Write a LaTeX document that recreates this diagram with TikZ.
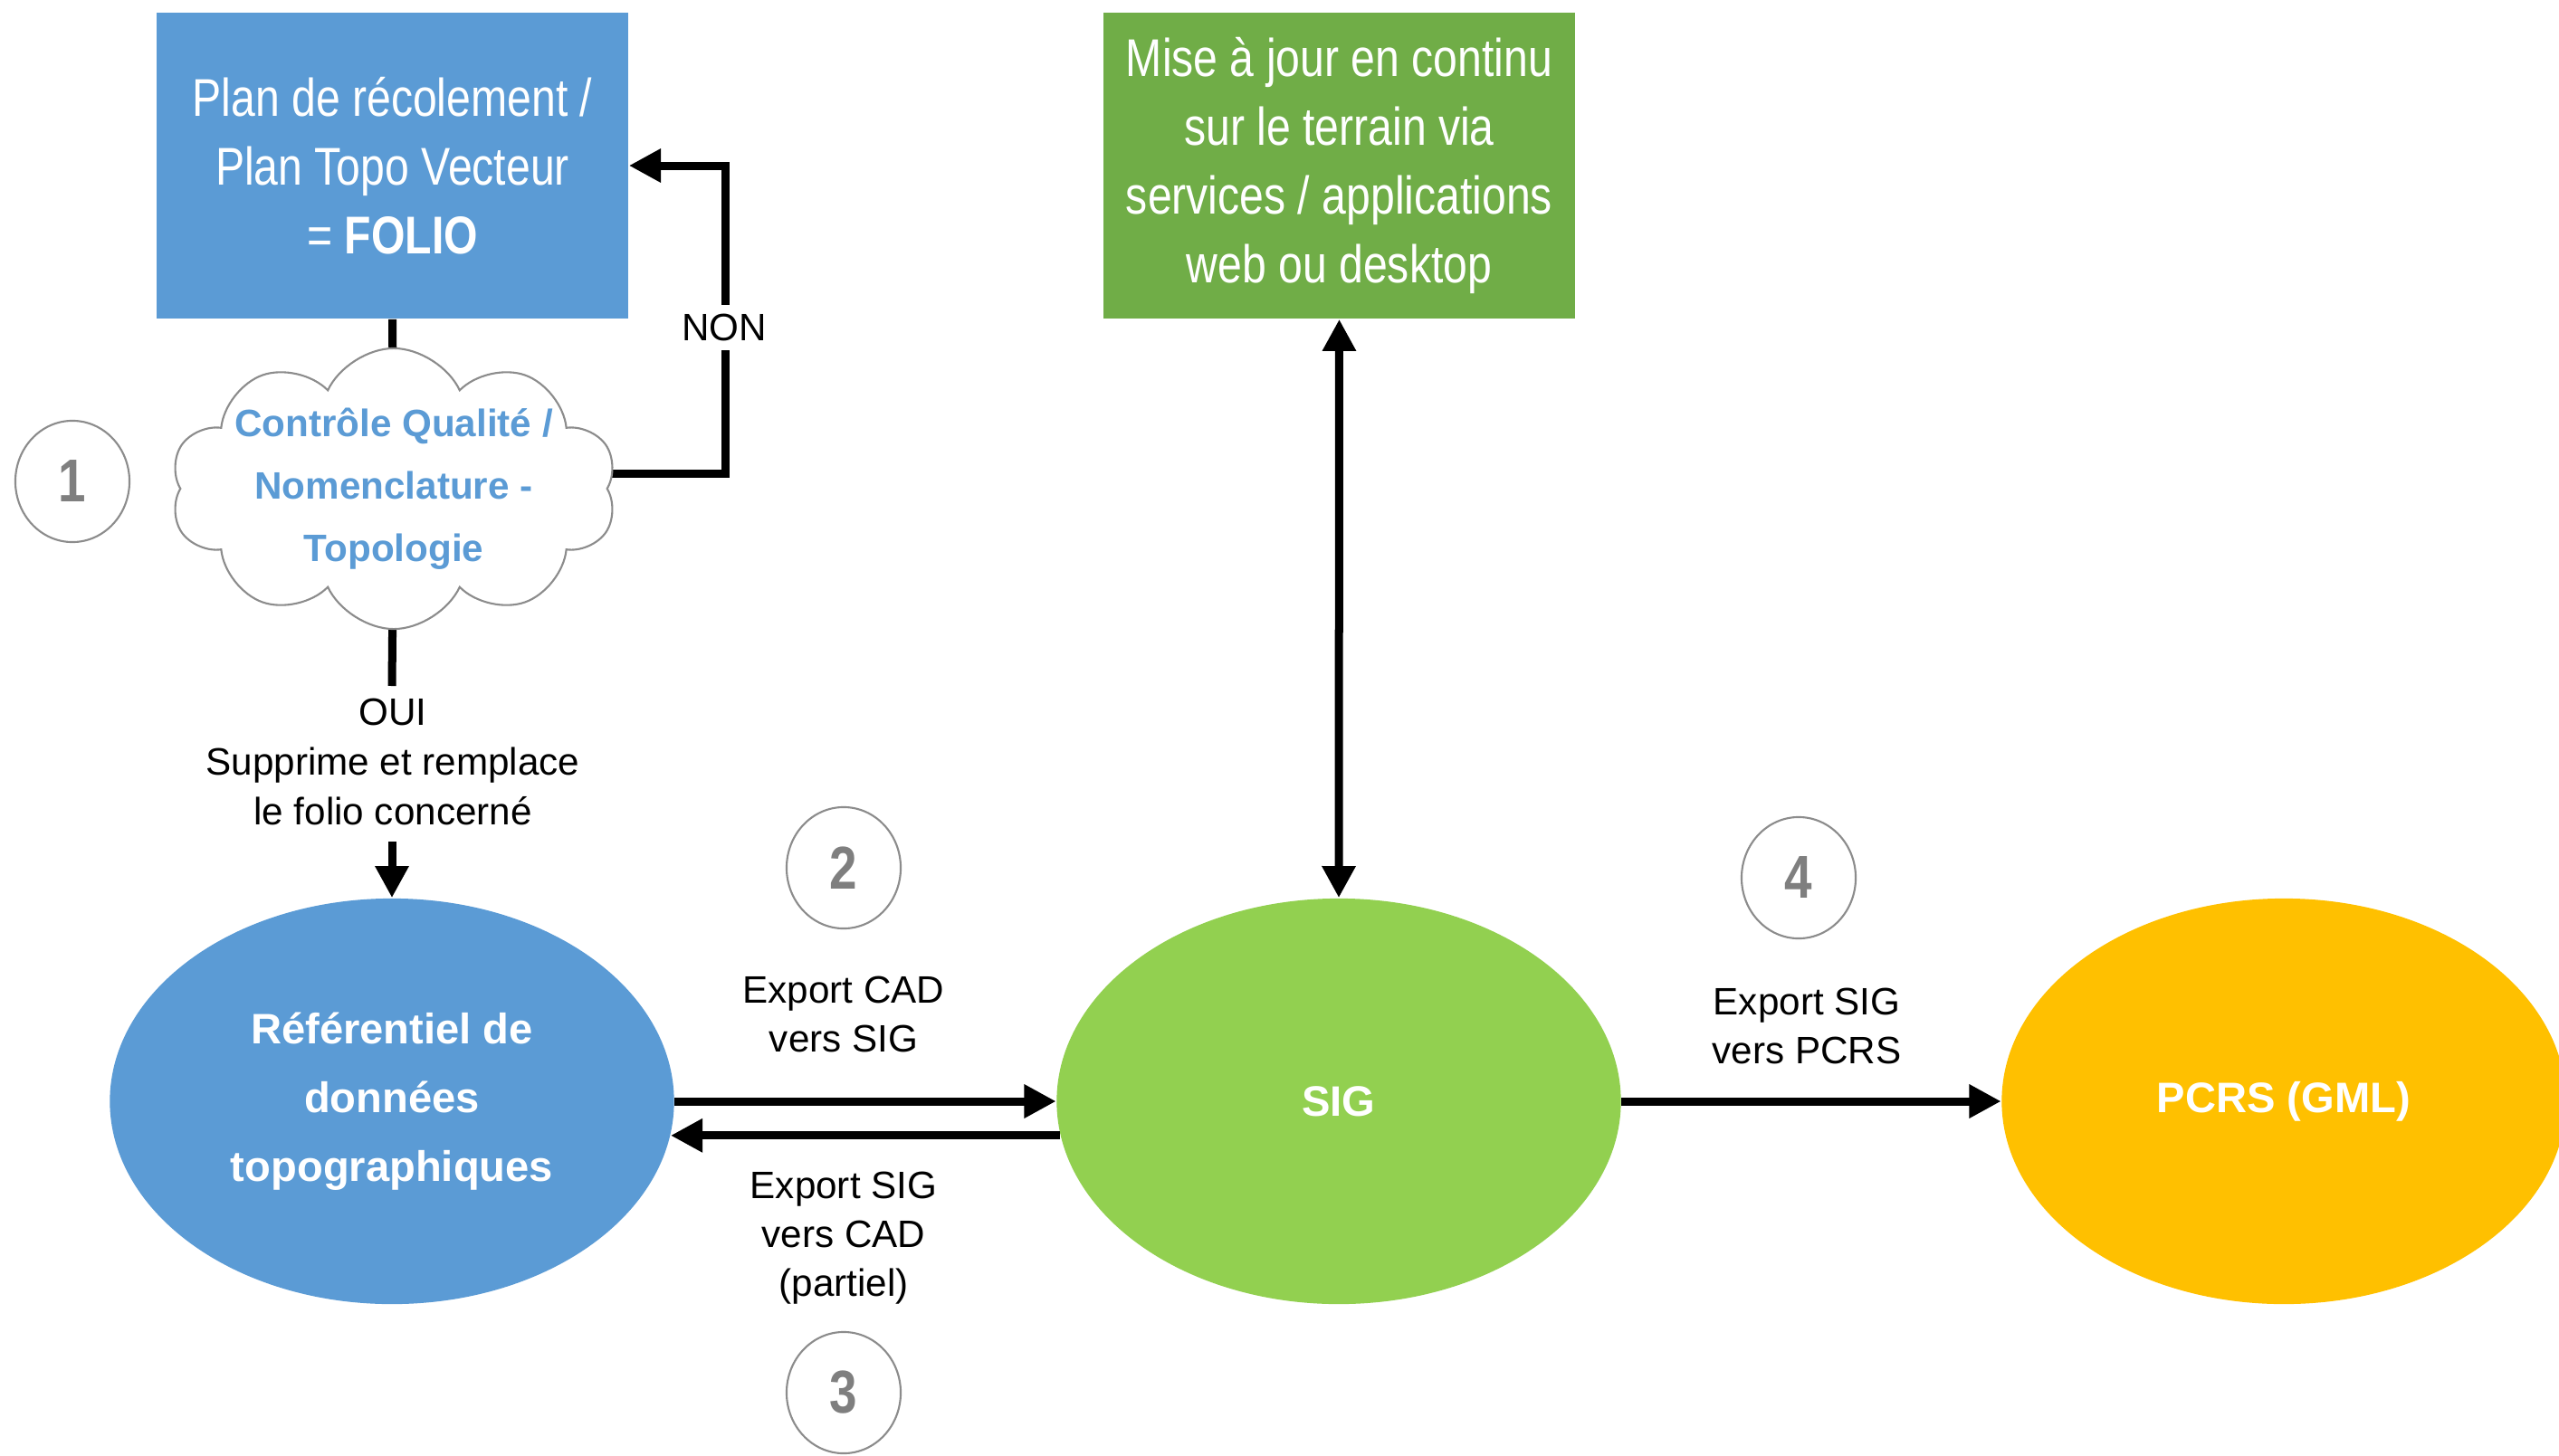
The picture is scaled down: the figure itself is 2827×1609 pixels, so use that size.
\documentclass[tikz,border=0pt]{standalone}
\usepackage{fontspec}
\setmainfont{Liberation Sans}
\newfontfamily\narrowfont{Liberation Sans}[FakeStretch=0.82]
\usetikzlibrary{arrows.meta,shapes.geometric,shapes.symbols,backgrounds}
\definecolor{boxblue}{HTML}{5B9BD5}
\definecolor{boxgreen}{HTML}{70AD47}
\definecolor{siggreen}{HTML}{92D050}
\definecolor{pcrsgold}{HTML}{FFC000}
\definecolor{numgray}{HTML}{7F7F7F}
\definecolor{cloudline}{HTML}{8C8C8C}
\begin{document}
\begin{tikzpicture}[x=0.01cm,y=-0.01cm,
  conn/.style={line width=2.56pt, draw=black},
  arr/.style={conn, -{Triangle[length=10pt,width=10pt]}},
  darr/.style={conn, {Triangle[length=10pt,width=10pt]}-{Triangle[length=10pt,width=10pt]}},
  topbox/.style={rectangle, minimum width=5.21cm, minimum height=3.38cm, inner sep=0pt,
    text=white, align=center, font=\narrowfont\fontsize{16.7}{21.6}\selectfont},
  bubble/.style={ellipse, minimum width=6.23cm, minimum height=4.48cm, inner sep=0pt,
    text=white, align=center, font=\bfseries\fontsize{13.4}{21.6}\selectfont},
  lbl/.style={align=center, font=\fontsize{12}{15.4}\selectfont},
  numc/.style={ellipse, draw=numgray!90, line width=0.6pt, fill=white,
    minimum width=1.26cm, minimum height=1.34cm, inner sep=0pt,
    text=numgray, font=\narrowfont\bfseries\fontsize{19}{23}\selectfont}
]
\useasboundingbox (0,0) rectangle (2827,1609);

% top boxes
\node[topbox, fill=boxblue] (folio) at (433.5,183)
  {Plan de récolement /\\Plan Topo Vecteur\\= \textbf{FOLIO}};
\node[topbox, fill=boxgreen] (maj) at (1479.5,183)
  {Mise à jour en continu\\sur le terrain via\\services / applications\\web ou desktop};

% cloud
\node[cloud, cloud puffs=10, cloud puff arc=130, cloud ignores aspect,
  minimum width=4.93cm, minimum height=3.10cm, inner sep=0pt,
  draw=cloudline, line width=0.6pt, fill=white] (cq) at (435,540) {};
\node[text=boxblue, align=center, inner sep=0pt,
  font=\bfseries\fontsize{12}{19.6}\selectfont] (cqtext) at (cq.center)
  {Contrôle Qualité /\\Nomenclature -\\Topologie};

% ellipses
\node[bubble, fill=boxblue] (ref) at (433,1217) {Référentiel de\\données\\topographiques};
\node[bubble, fill=siggreen] (sig) at (1479,1217) {SIG};
\node[bubble, fill=pcrsgold] (pcrs) at (2523,1217) {PCRS (GML)};

% number circles
\node[numc] (n1) at (80,532) {1};
\node[numc] (n2) at (932,959) {2};
\node[numc] (n3) at (932,1539) {3};
\node[numc] (n4) at (1987,970) {4};

% labels
\node[lbl] (l2) at (932,1121) {Export CAD\\vers SIG};
\node[lbl] (l3) at (932,1368) {Export SIG\\vers CAD\\(partiel)};
\node[lbl] (l4) at (1996,1134) {Export SIG\\vers PCRS};
\node[lbl, font=\fontsize{12}{15.6}\selectfont] (oui) at (434,842)
  {OUI\\Supprime et remplace\\le folio concerné};
\node[lbl, fill=white, inner sep=3pt] (non) at (800,362) {NON};

\coordinate (c1) at (433,758);
\coordinate (c2) at (433,930);
\coordinate (nonc) at (801,523);

\begin{scope}[on background layer]
  \fill[white] (0,0) rectangle (2827,1609);
  \draw[conn] (folio.south) -- (cq.center);
  \draw[conn] (cq.center) -- (c1);
  \draw[arr] (cq.center |- nonc) -- (nonc) |- (folio.east);
\end{scope}

\draw[arr] (c2) -- (ref.north);
\draw[arr] (ref.east) -- (sig.west);
\draw[arr] (sig.187.2) -- (ref.-7.2);
\draw[arr] (sig.east) -- (pcrs.west);
\draw[darr] (maj.south) -- (sig.north);
\end{tikzpicture}
\end{document}
